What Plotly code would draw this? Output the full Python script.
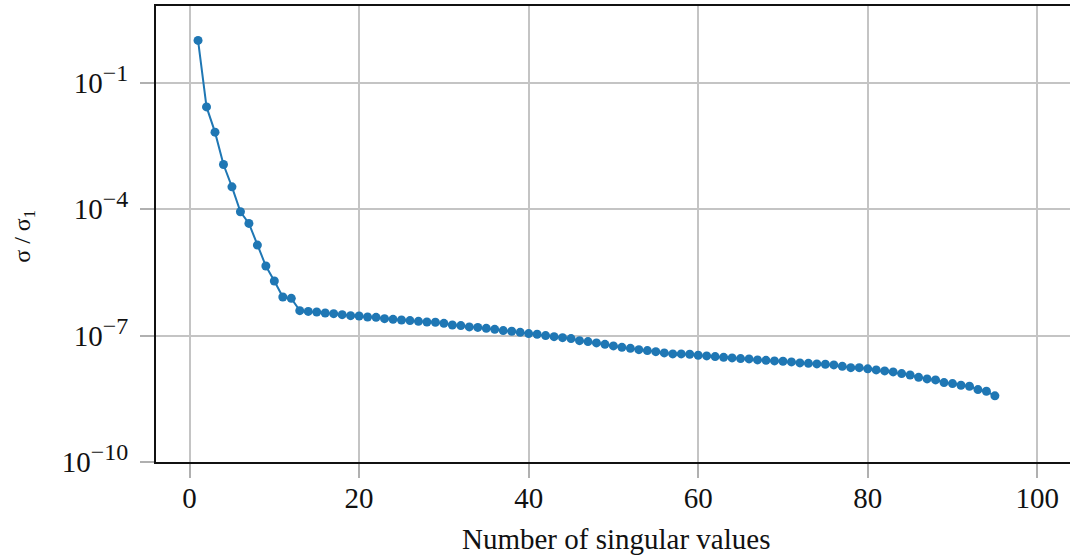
import plotly.graph_objects as go

# Number of singular values (index) and normalised singular values sigma/sigma_1
n_values = list(range(1, 96))
sigma_ratio = [
    1.0, 2.65e-2, 6.68e-3, 1.14e-3, 3.37e-4, 8.63e-5, 4.56e-5, 1.40e-5, 4.46e-6, 1.97e-6,
    8.22e-7, 7.62e-7, 3.89e-7, 3.74e-7, 3.62e-7, 3.43e-7, 3.30e-7, 3.13e-7, 2.96e-7, 2.91e-7,
    2.76e-7, 2.70e-7, 2.51e-7, 2.42e-7, 2.34e-7, 2.26e-7, 2.17e-7, 2.10e-7, 2.06e-7, 1.95e-7,
    1.78e-7, 1.72e-7, 1.60e-7, 1.56e-7, 1.48e-7, 1.40e-7, 1.31e-7, 1.26e-7, 1.19e-7, 1.11e-7,
    1.07e-7, 9.95e-8, 9.42e-8, 8.91e-8, 8.45e-8, 7.57e-8, 7.17e-8, 6.68e-8, 6.18e-8, 5.67e-8,
    5.25e-8, 4.97e-8, 4.63e-8, 4.39e-8, 4.15e-8, 3.87e-8, 3.66e-8, 3.66e-8, 3.59e-8, 3.40e-8,
    3.29e-8, 3.16e-8, 3.04e-8, 2.94e-8, 2.84e-8, 2.79e-8, 2.64e-8, 2.58e-8, 2.50e-8, 2.45e-8,
    2.37e-8, 2.24e-8, 2.19e-8, 2.12e-8, 2.08e-8, 2.01e-8, 1.86e-8, 1.73e-8, 1.73e-8, 1.62e-8,
    1.53e-8, 1.45e-8, 1.37e-8, 1.25e-8, 1.16e-8, 1.02e-8, 9.37e-9, 8.87e-9, 7.66e-9, 7.25e-9,
    6.61e-9, 6.25e-9, 5.22e-9, 4.76e-9, 3.71e-9,
]

x_tickvals = [0, 20, 40, 60, 80, 100]
y_tickvals = [1e-1, 1e-4, 1e-7, 1e-10]
y_exponents = ["\u22121", "\u22124", "\u22127", "\u221210"]
y_ticktext = ["10<sup><span style='font-size:24px'>%s</span></sup>" % e for e in y_exponents]

x_title = "Number of singular values"
y_title = "\u03c3 / \u03c3<sub>1</sub>"

FONT = "Liberation Serif, Times New Roman, serif"
BLUE = "#1f77b4"
GRID = "#c4c4c4"

fig = go.Figure()
fig.add_trace(go.Scatter(
    x=n_values, y=sigma_ratio, mode="lines+markers",
    line=dict(color=BLUE, width=2),
    marker=dict(color=BLUE, size=9),
    showlegend=False,
))

fig.update_layout(
    width=1070, height=557,
    margin=dict(l=156, r=0, t=6, b=95),
    paper_bgcolor="white", plot_bgcolor="white",
    font=dict(family=FONT, size=29, color="#111111"),
    xaxis=dict(
        range=[-3.96, 103.86],
        tickmode="array", tickvals=x_tickvals,
        showgrid=True, gridcolor=GRID, gridwidth=1.5,
        zeroline=False,
        showline=True, linecolor="#111111", linewidth=2, mirror=True,
        ticks="outside", ticklen=14, tickwidth=1.5, tickcolor="#b0b0b0",
        ticklabelstandoff=-5,
        tickfont=dict(family=FONT, size=29, color="#111111"),
    ),
    yaxis=dict(
        type="log",
        range=[-10, 0.817],
        tickmode="array", tickvals=y_tickvals, ticktext=y_ticktext,
        showgrid=True, gridcolor=GRID, gridwidth=1.5,
        zeroline=False,
        showline=True, linecolor="#111111", linewidth=2,
        ticks="outside", ticklen=14, tickwidth=1.5, tickcolor="#b0b0b0",
        ticklabelstandoff=6,
        tickfont=dict(family=FONT, size=29, color="#111111"),
    ),
    annotations=[
        dict(text=x_title, xref="paper", yref="paper",
             x=(616 - 156) / 914, y=-(540 - 462.5) / 456.5,
             xanchor="center", yanchor="middle", showarrow=False,
             font=dict(family=FONT, size=29, color="#111111")),
        dict(text=y_title, xref="paper", yref="paper",
             x=-(156 - 24) / 914, y=(462.5 - 237) / 456.5,
             xanchor="center", yanchor="middle", showarrow=False, textangle=-90,
             font=dict(family=FONT, size=24, color="#111111")),
    ],
)

fig.write_html("out.html")
